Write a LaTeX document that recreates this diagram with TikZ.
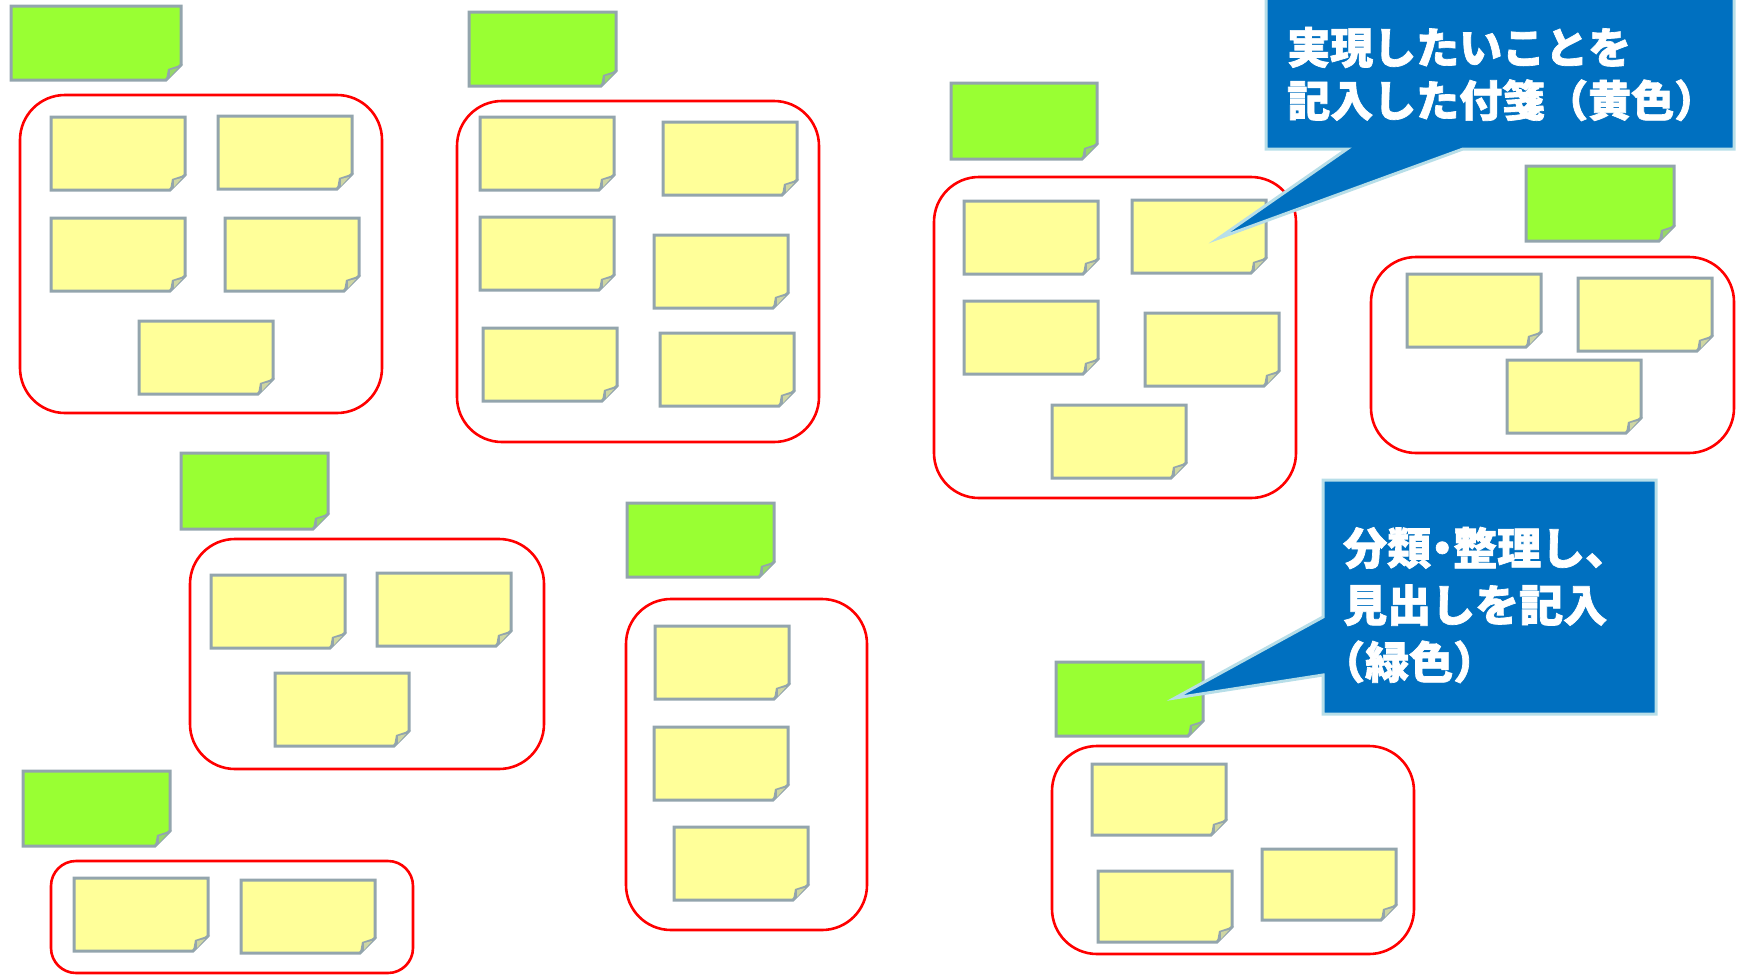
\documentclass[tikz,border=0pt]{standalone}
\usepackage{fontspec}
\newfontfamily\cjk{Noto Sans CJK JP}[BoldFeatures={FakeBold=1.6}]
\newcommand\halfw[1]{{\addfontfeature{RawFeature=+halt}#1}}
\definecolor{notegreen}{HTML}{99FF33}
\definecolor{noteyellow}{HTML}{FFFF99}
\definecolor{notegray}{HTML}{93A5AD}
\definecolor{groupred}{HTML}{FF0000}
\definecolor{callblue}{HTML}{0070C0}
\definecolor{callborder}{HTML}{B7DEE8}
\tikzset{
  notebox/.style={inner sep=0pt, outer sep=0pt, draw=none},
  notestroke/.style={draw=notegray, line width=3pt},
  groupbox/.style={draw=groupred, line width=2.6pt, rounded corners=45pt},
  calloutshape/.style={fill=callblue, draw=callborder, line width=3pt},
  callouttext/.style={text=white, font=\cjk\bfseries, align=left, inner sep=0pt, anchor=west}
}
\newcommand\stickynote[6]{%
  \node[notebox, minimum width=#4pt, minimum height=#5pt, anchor=north west] (#1) at (#2,#3) {};
  \filldraw[notestroke, fill=#6] (#1.north west) -- (#1.north east) -- ([yshift=15pt]#1.south east) -- ([xshift=-15pt]#1.south east) -- (#1.south west) -- cycle;
  \fill[notegray] ([xshift=-15pt]#1.south east) -- ([xshift=2pt,yshift=16pt]#1.south east) -- ([xshift=-13pt,yshift=11pt]#1.south east) -- cycle;
  \fill[#6!55!notegray] ([xshift=-11pt,yshift=3pt]#1.south east) -- ([xshift=-3pt,yshift=12pt]#1.south east) -- ([xshift=-11pt,yshift=10pt]#1.south east) -- cycle;
}
\newcommand\groupframe[5]{%
  \node[notebox, minimum width=#4pt, minimum height=#5pt, anchor=north west] (#1) at (#2,#3) {};
  \draw[groupbox] (#1.north west) rectangle (#1.south east);
}
\begin{document}
\begin{tikzpicture}[x=1pt,y=-1pt]
\useasboundingbox (0,0) rectangle (1738,980);
% green headings
\stickynote{g1}{11}{6}{170}{74}{notegreen}
\stickynote{g2}{469}{12}{147}{74}{notegreen}
\stickynote{g3}{951}{83}{146}{76}{notegreen}
\stickynote{g4}{1526}{166}{148}{75}{notegreen}
\stickynote{g5}{181}{453}{147}{76}{notegreen}
\stickynote{g6}{627}{503}{147}{74}{notegreen}
\stickynote{g7}{23}{771}{147}{75}{notegreen}
\stickynote{g8}{1056}{662}{147}{74}{notegreen}
% group frames
\groupframe{r1}{20}{95}{362}{318}
\groupframe{r2}{457}{101}{362}{341}
\groupframe{r3}{934}{177}{362}{321}
\groupframe{r4}{1371}{257}{363}{196}
\groupframe{r5}{190}{539}{354}{230}
\groupframe{r6}{626}{599}{241}{331}
\node[notebox, minimum width=362pt, minimum height=112pt, anchor=north west] (r7) at (51,861) {};
\draw[groupbox, rounded corners=25pt] (r7.north west) rectangle (r7.south east);
\groupframe{r8}{1052}{746}{362}{208}
% yellow notes
\stickynote{y11}{51}{117}{134}{73}{noteyellow}
\stickynote{y12}{218}{116}{134}{73}{noteyellow}
\stickynote{y13}{51}{218}{134}{73}{noteyellow}
\stickynote{y14}{225}{218}{134}{73}{noteyellow}
\stickynote{y15}{139}{321}{134}{73}{noteyellow}
\stickynote{y21}{480}{117}{134}{73}{noteyellow}
\stickynote{y22}{663}{122}{134}{73}{noteyellow}
\stickynote{y23}{480}{217}{134}{73}{noteyellow}
\stickynote{y24}{654}{235}{134}{73}{noteyellow}
\stickynote{y25}{483}{328}{134}{73}{noteyellow}
\stickynote{y26}{660}{333}{134}{73}{noteyellow}
\stickynote{y31}{964}{201}{134}{73}{noteyellow}
\stickynote{y32}{1132}{200}{134}{73}{noteyellow}
\stickynote{y33}{964}{301}{134}{73}{noteyellow}
\stickynote{y34}{1145}{313}{134}{73}{noteyellow}
\stickynote{y35}{1052}{405}{134}{73}{noteyellow}
\stickynote{y41}{1407}{274}{134}{73}{noteyellow}
\stickynote{y42}{1578}{278}{134}{73}{noteyellow}
\stickynote{y43}{1507}{360}{134}{73}{noteyellow}
\stickynote{y51}{211}{575}{134}{73}{noteyellow}
\stickynote{y52}{377}{573}{134}{73}{noteyellow}
\stickynote{y53}{275}{673}{134}{73}{noteyellow}
\stickynote{y61}{655}{626}{134}{73}{noteyellow}
\stickynote{y62}{654}{727}{134}{73}{noteyellow}
\stickynote{y63}{674}{827}{134}{73}{noteyellow}
\stickynote{y71}{74}{878}{134}{73}{noteyellow}
\stickynote{y72}{241}{880}{134}{73}{noteyellow}
\stickynote{y81}{1092}{764}{134}{71}{noteyellow}
\stickynote{y82}{1098}{871}{134}{71}{noteyellow}
\stickynote{y83}{1262}{849}{134}{71}{noteyellow}
% callout 1
\node[notebox, minimum width=468pt, minimum height=152pt, anchor=north west] (c1) at (1266,-3) {};
\coordinate (c1tip) at (1219,238);
\filldraw[calloutshape] (c1.north west) -- (c1.north east) -- (c1.south east)
  -- ([xshift=197pt]c1.south west) -- (c1tip) -- ([xshift=81pt]c1.south west)
  -- (c1.south west) -- cycle;
\node[callouttext, font=\cjk\bfseries\fontsize{43pt}{53pt}\selectfont] (c1text) at (1287,74)
  {実現したいことを\\記入した付箋（黄色）};
% callout 2
\node[notebox, minimum width=333pt, minimum height=234pt, anchor=north west] (c2) at (1323,480) {};
\coordinate (c2tip) at (1175,698);
\filldraw[calloutshape] (c2.north west) -- (c2.north east) -- (c2.south east)
  -- (c2.south west) -- ([yshift=39pt]c2.south west) -- (c2tip)
  -- ([yshift=97pt]c2.south west) -- cycle;
\node[callouttext, font=\cjk\bfseries\fontsize{44pt}{57pt}\selectfont] (c2text) at (1343,605)
  {分類\halfw{・}整理し、\\見出しを記入\\\halfw{（}緑色\halfw{）}};
\end{tikzpicture}
\end{document}
